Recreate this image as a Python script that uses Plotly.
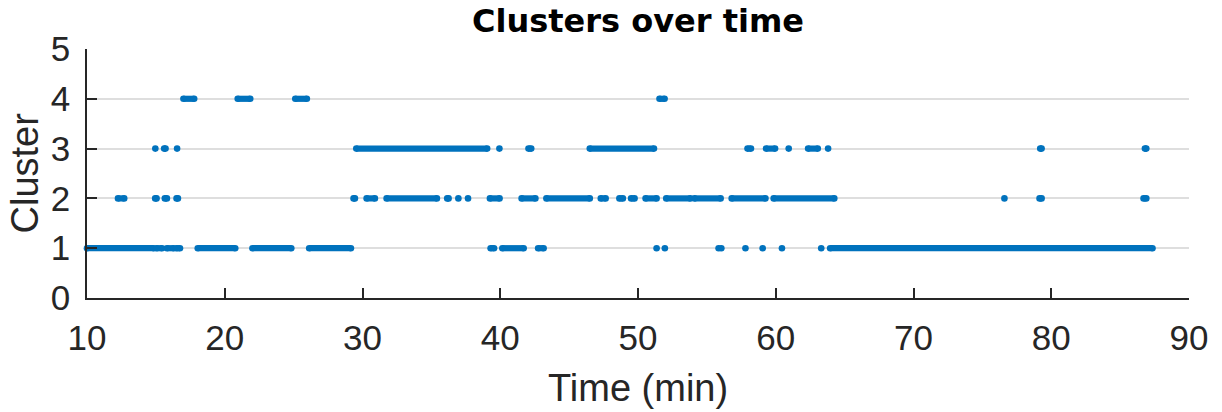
import plotly.graph_objects as go

# ---- data: runs of consecutive samples (start, end in minutes) and isolated samples, per cluster ----
cluster_ids = [1, 2, 3, 4]

c1_start = [10.0, 15.05, 15.8, 16.5, 18.04, 22.01, 26.13, 39.3, 40.15, 42.75, 63.95]
c1_end = [14.85, 15.45, 16.3, 16.75, 20.76, 24.83, 29.16, 39.55, 41.7, 43.15, 87.35]
c1_single = [51.35, 51.95, 55.85, 56.05, 57.8, 59.05, 60.45, 63.3]

c2_start = [12.25, 14.95, 15.65, 16.5, 29.35, 30.3, 31.75, 36.15, 39.25, 41.55, 43.35,
            47.3, 48.65, 49.5, 50.55, 52.05, 54.1, 56.8, 59.85, 79.15, 86.7]
c2_end = [12.7, 15.05, 15.8, 16.6, 29.45, 30.9, 35.4, 36.25, 39.95, 42.55, 46.5,
          47.65, 48.9, 49.75, 51.35, 53.8, 56.0, 59.25, 64.25, 79.3, 86.9]
c2_single = [36.96, 37.66, 76.6]

c3_start = [15.6, 29.55, 42.05, 46.5, 57.95, 59.3, 62.35, 79.2, 86.8]
c3_end = [15.7, 39.05, 42.25, 51.16, 58.2, 59.95, 63.05, 79.3, 86.9]
c3_single = [14.96, 16.54, 39.94, 60.94, 63.8]

c4_start = [17.0, 20.94, 25.12, 51.56]
c4_end = [17.78, 21.85, 25.96, 51.93]
c4_single = []

x_ticks = [10, 20, 30, 40, 50, 60, 70, 80, 90]
y_ticks = [0, 1, 2, 3, 4, 5]

runs = {
    1: (c1_start, c1_end, c1_single),
    2: (c2_start, c2_end, c2_single),
    3: (c3_start, c3_end, c3_single),
    4: (c4_start, c4_end, c4_single),
}

BLUE = "#0072BD"
DARK = "#262626"
FONT = "Liberation Sans, Arial, sans-serif"

fig = go.Figure()
for c in cluster_ids:
    starts, ends, singles = runs[c]
    xs, ys = [], []
    for s, e in zip(starts, ends):
        xs += [s, e, None]
        ys += [c, c, None]
    for s in singles:
        xs += [s, None]
        ys += [c, None]
    fig.add_trace(go.Scatter(
        x=xs, y=ys, mode="lines+markers",
        line=dict(color=BLUE, width=6.2),
        marker=dict(color=BLUE, size=6.6, line=dict(width=0)),
        connectgaps=False, cliponaxis=False, showlegend=False,
        hoverinfo="x+y",
    ))

fig.update_layout(
    width=1222, height=412,
    margin=dict(l=87, r=33, t=49, b=114),
    paper_bgcolor="white", plot_bgcolor="white",
    font=dict(family=FONT, color=DARK),
    title=dict(text="<b>Clusters over time</b>", x=0.5, xref="paper",
               y=1 - 20.5 / 412, yref="container", xanchor="center", yanchor="middle",
               font=dict(family="DejaVu Sans, sans-serif", size=32, color="#000000")),
    xaxis=dict(range=[10, 90], tickvals=x_ticks, ticks="inside", ticklen=10,
               tickwidth=1.5, tickcolor=DARK, showline=True, linecolor=DARK,
               linewidth=1.6, showgrid=False, zeroline=False,
               tickfont=dict(size=35, color=DARK), ticklabelstandoff=8),
    yaxis=dict(range=[0, 5], tickvals=y_ticks, ticks="inside", ticklen=10,
               tickwidth=1.5, tickcolor=DARK, showline=True, linecolor=DARK,
               linewidth=1.6, showgrid=True, gridcolor="#dedede", gridwidth=1.5,
               zeroline=False, tickfont=dict(size=35, color=DARK),
               ticklabelstandoff=8),
    annotations=[
        dict(text="Time (min)", x=0.5, xref="paper", y=0, yref="paper",
             xanchor="center", yanchor="middle", yshift=-90, showarrow=False,
             font=dict(size=38, color=DARK, family=FONT)),
        dict(text="Cluster", x=0, xref="paper", y=0.5, yref="paper",
             xanchor="center", yanchor="middle", xshift=-63, textangle=-90,
             showarrow=False, font=dict(size=38, color=DARK, family=FONT)),
    ],
)

fig.write_html("out.html")
